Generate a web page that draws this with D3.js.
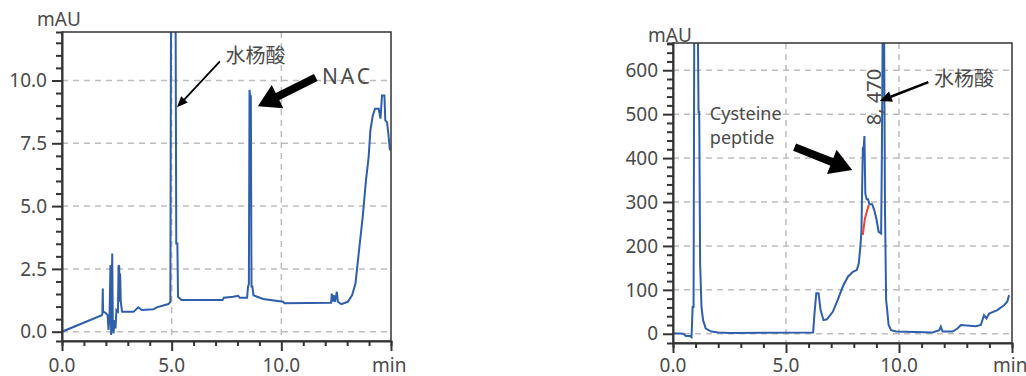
<!DOCTYPE html>
<html>
<head>
<meta charset="utf-8">
<script src="https://cdn.jsdelivr.net/npm/d3@7"></script>
<style>
  body { margin: 0; background: #fff; }
  svg text { font-family: "Noto Sans", "Noto Sans CJK SC", sans-serif; fill: #4a4a4a; }
</style>
</head>
<body>
<div id="chart"></div>
<script>
// left chromatogram (min, mAU)
const leftTime = [0, 1.82, 1.84, 1.86, 1.87, 1.97, 2.08, 2.12, 2.17, 2.21, 2.24, 2.29, 2.32, 2.35, 2.39, 2.44, 2.48, 2.55, 2.58, 2.61, 2.62, 2.65, 2.68, 2.74, 3.26, 3.48, 3.64, 4.17, 4.32, 4.85, 4.94, 4.97, 5.18, 5.21, 5.26, 5.29, 5.45, 7.32, 7.38, 7.80, 8.03, 8.11, 8.44, 8.48, 8.52, 8.55, 8.58, 8.61, 8.64, 8.68, 8.73, 8.9, 9.17, 10.08, 10.15, 12.27, 12.3, 12.34, 12.39, 12.45, 12.53, 12.58, 12.73, 13.03, 13.23, 13.38, 13.48, 13.56, 13.71, 13.86, 13.98, 14.06, 14.17, 14.27, 14.44, 14.52, 14.59, 14.7, 14.74, 14.82, 14.88, 14.95];
const leftAbs  = [0, 0.66, 0.7, 1.72, 0.8, 0.76, 0.66, 0.07, 0.73, 2.65, -0.13, 3.11, 0.13, -0.07, 0.46, 0.13, 0.86, 0.8, 2.65, 2.6, 1.19, 2.32, 1.19, 0.79, 0.79, 0.97, 0.86, 0.89, 0.97, 1.1, 1.19, 12.5, 12.5, 3.51, 3.51, 1.39, 1.26, 1.26, 1.35, 1.39, 1.43, 1.35, 1.35, 1.79, 1.9, 9.63, 9.3, 9.33, 1.8, 1.8, 1.45, 1.39, 1.3, 1.19, 1.13, 1.15, 1.52, 1.2, 1.45, 1.19, 1.59, 1.19, 1.1, 1.19, 1.46, 1.92, 2.72, 3.38, 4.57, 6.03, 6.95, 8.01, 8.61, 8.87, 8.87, 8.48, 9.4, 9.4, 8.41, 8.34, 7.88, 7.22];

// right chromatogram (min, mAU)
const rightTime = [0, 0.46, 0.57, 0.75, 0.82, 0.87, 0.91, 0.94, 1.10, 1.13, 1.16, 1.20, 1.26, 1.33, 1.45, 1.7, 2.0, 2.5, 6.2, 6.26, 6.34, 6.44, 6.53, 6.66, 6.81, 7.07, 7.29, 7.51, 7.74, 7.96, 8.13, 8.22, 8.29, 8.34, 8.37, 8.40, 8.43, 8.47, 8.51, 8.57, 8.63, 8.69, 8.81, 8.91, 9.01, 9.10, 9.21, 9.24, 9.28, 9.34, 9.38, 9.43, 9.47, 9.54, 9.65, 9.87, 11.49, 11.78, 11.85, 11.93, 12.37, 12.59, 12.74, 13.4, 13.62, 13.76, 13.87, 13.99, 14.35, 14.65, 14.79, 14.87];
const rightAbs  = [1, 0, -5, -5, -8, 61, 61, 700, 700, 505, 505, 160, 61, 31, 12, 5, 3, 2, 3, 46, 92, 92, 54, 31, 33, 50, 77, 107, 130, 141, 145, 160, 198, 236, 335, 420, 418, 450, 319, 306, 306, 295, 295, 281, 259, 232, 228, 395, 700, 700, 285, 77, 58, 20, 8, 5, 3, 8, 16, 5, 5, 12, 20, 17, 20, 42, 35, 46, 54, 65, 73, 88];

// integration baseline (red)
const redTime = [8.40, 8.49, 8.66];
const redAbs  = [225, 262, 293];

const xLabels = [0, 5, 10];
const leftYLabels = [0, 2.5, 5, 7.5, 10];
const rightYLabels = [0, 100, 200, 300, 400, 500, 600];

const width = 1026, height = 376;
const blue = "#2f5eab";

const svg = d3.select("#chart").append("svg")
  .attr("width", width)
  .attr("height", height);

function drawPanel(p) {
  const x = d3.scaleLinear().domain([0, 15]).range([p.left, p.right]);
  const y = d3.scaleLinear().domain(p.yDomain).range([p.bottom, p.top]);
  const g = svg.append("g");

  // grid
  g.selectAll(".hg").data(p.yLabels).enter().append("line")
    .attr("x1", p.left).attr("x2", p.right)
    .attr("y1", d => y(d)).attr("y2", d => y(d))
    .attr("stroke", "#bdbdbd").attr("stroke-width", 1.5)
    .attr("stroke-dasharray", "6,5");
  g.selectAll(".vg").data(xLabels.filter(d => d > 0)).enter().append("line")
    .attr("x1", d => x(d)).attr("x2", d => x(d))
    .attr("y1", p.top).attr("y2", p.bottom)
    .attr("stroke", "#bdbdbd").attr("stroke-width", 1.5)
    .attr("stroke-dasharray", "6,5");

  // trace
  const clipId = "clip" + p.left;
  g.append("clipPath").attr("id", clipId)
    .append("rect")
    .attr("x", p.left).attr("y", p.top)
    .attr("width", p.right - p.left).attr("height", p.bottom - p.top);

  const line = d3.line().x(d => x(d[0])).y(d => y(d[1]));
  g.append("path")
    .datum(d3.zip(p.time, p.abs))
    .attr("clip-path", `url(#${clipId})`)
    .attr("fill", "none")
    .attr("stroke", blue)
    .attr("stroke-width", 2)
    .attr("d", line);

  if (p.redTime) {
    g.append("path")
      .datum(d3.zip(p.redTime, p.redAbs))
      .attr("fill", "none")
      .attr("stroke", "#ee4433")
      .attr("stroke-width", 2)
      .attr("d", line);
  }

  // frame
  g.append("rect")
    .attr("x", p.left).attr("y", p.top)
    .attr("width", p.right - p.left).attr("height", p.bottom - p.top)
    .attr("fill", "none").attr("stroke", "#333").attr("stroke-width", 1.5);

  // y axis
  const yTicks = d3.range(0, p.yDomain[1], p.yMinor);
  const yAxis = g.append("g").attr("transform", `translate(${p.left},0)`)
    .call(d3.axisLeft(y).tickValues(yTicks).tickSize(6).tickFormat(""));
  yAxis.select(".domain").attr("stroke", "#333").attr("stroke-width", 2);
  yAxis.selectAll(".tick line").attr("stroke", "#333").attr("stroke-width", 2)
    .filter(d => p.yLabels.some(v => Math.abs(v - d) < 1e-6))
    .attr("x2", -10);

  g.selectAll(".ylab").data(p.yLabels).enter().append("text")
    .attr("x", p.left - 15)
    .attr("y", d => y(d))
    .attr("dy", "0.35em")
    .attr("text-anchor", "end")
    .style("font-size", "19px")
    .text(p.yFmt);

  // x axis
  const xAxis = g.append("g").attr("transform", `translate(0,${p.bottom})`)
    .call(d3.axisBottom(x).tickValues(d3.range(0, 16, 1)).tickSize(5).tickFormat(""));
  xAxis.select(".domain").attr("stroke", "#333").attr("stroke-width", 2);
  xAxis.selectAll(".tick line").attr("stroke", "#333").attr("stroke-width", 2)
    .filter(d => d % 5 === 0).attr("y2", 10);

  g.selectAll(".xlab").data(xLabels).enter().append("text")
    .attr("x", d => x(d))
    .attr("y", 372)
    .attr("text-anchor", "middle")
    .style("font-size", "19px")
    .text(d => d.toFixed(1));
  g.append("text")
    .attr("x", x(15) - 19)
    .attr("y", 372)
    .style("font-size", "19px")
    .text("min");

  g.append("text")
    .attr("x", p.mauX)
    .attr("y", p.mauY)
    .style("font-size", "19px")
    .text("mAU");

  return { x, y, g };
}

function arrow(g, x1, y1, x2, y2, w, headLen, headW) {
  const dx = x2 - x1, dy = y2 - y1;
  const len = Math.hypot(dx, dy);
  const ux = dx / len, uy = dy / len, nx = -uy, ny = ux;
  const bx = x2 - ux * headLen, by = y2 - uy * headLen;
  g.append("line")
    .attr("x1", x1).attr("y1", y1).attr("x2", bx + ux).attr("y2", by + uy)
    .attr("stroke", "#000").attr("stroke-width", w);
  g.append("path")
    .attr("d", `M${x2},${y2}L${bx + nx * headW / 2},${by + ny * headW / 2}L${bx - nx * headW / 2},${by - ny * headW / 2}Z`)
    .attr("fill", "#000");
}

const L = drawPanel({
  left: 62, right: 391, top: 32, bottom: 341,
  yDomain: [-0.37, 11.93], yMinor: 0.5, yLabels: leftYLabels,
  yFmt: d => d.toFixed(1),
  time: leftTime, abs: leftAbs,
  mauX: 37, mauY: 26
});

const R = drawPanel({
  left: 673, right: 1012, top: 43, bottom: 343,
  yDomain: [-21, 662], yMinor: 20, yLabels: rightYLabels,
  yFmt: d => d,
  time: rightTime, abs: rightAbs,
  redTime: redTime, redAbs: redAbs,
  mauX: 648, mauY: 42
});

// left annotations
L.g.append("text").attr("x", L.x(7.45)).attr("y", L.y(10.7))
  .style("font-size", "20px").style("font-family", "'Noto Sans CJK SC'").text("水杨酸");
arrow(L.g, L.x(7.2), L.y(10.76), L.x(5.24), L.y(8.93), 1.8, 11, 9);
L.g.append("text").attr("x", L.x(11.85)).attr("y", L.y(9.85))
  .style("font-size", "21px").style("letter-spacing", "3px").text("NAC");
arrow(L.g, L.x(11.57), L.y(10.12), L.x(8.93), L.y(8.97), 8, 22, 26);

// right annotations
R.g.append("text").attr("x", R.x(1.63)).attr("y", R.y(486))
  .style("font-size", "18px").text("Cysteine");
R.g.append("text").attr("x", R.x(1.63)).attr("y", R.y(432))
  .style("font-size", "18px").text("peptide");
arrow(R.g, R.x(5.38), R.y(425), R.x(7.93), R.y(373), 8, 22, 26);
R.g.append("text")
  .attr("transform", `translate(${R.x(9.2)},${R.y(475)}) rotate(-90)`)
  .style("font-size", "20px").text("8, 470");
R.g.append("text").attr("x", R.x(11.55)).attr("y", R.y(565))
  .style("font-size", "20px").style("font-family", "'Noto Sans CJK SC'").text("水杨酸");
arrow(R.g, R.x(11.3), R.y(573), R.x(9.15), R.y(530), 2.5, 12, 11);
</script>
</body>
</html>
